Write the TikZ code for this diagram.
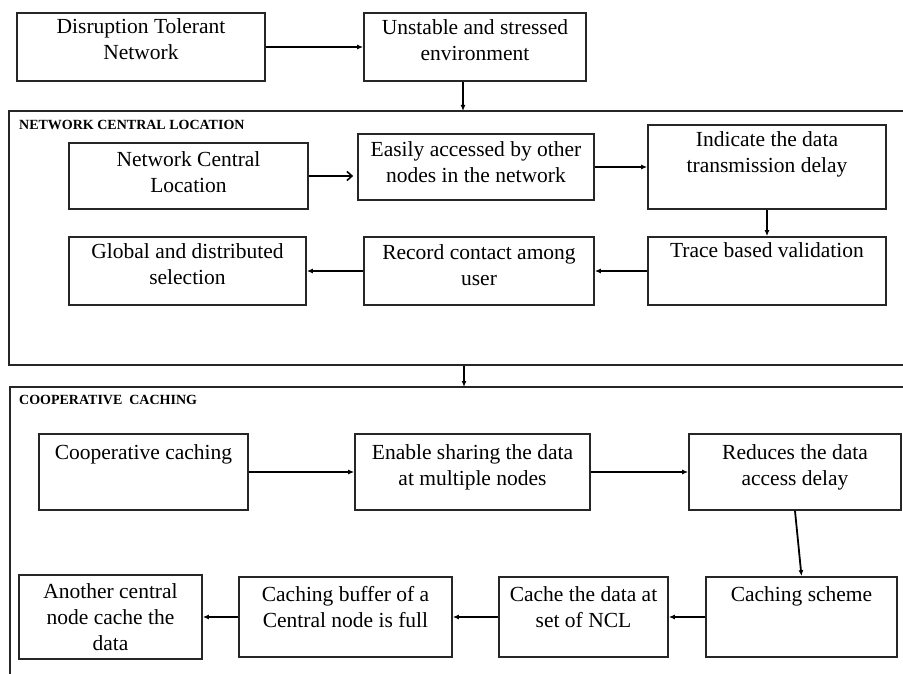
\documentclass[tikz,border=0pt]{standalone}
\usepackage{fontspec}
\setmainfont{Liberation Serif}
\usetikzlibrary{arrows.meta,calc}
\begin{document}
\begin{tikzpicture}[x=1pt,y=-1pt,
  box/.style={draw=black!85, line width=1.7pt, rectangle, inner sep=0pt},
  frame/.style={draw=black!85, line width=1.7pt, rectangle, inner sep=0pt},
  txt/.style={align=center, inner sep=0pt, anchor=base, font=\fontsize{21.5}{26}\selectfont},
  ttl/.style={anchor=base west, inner sep=0pt, font=\bfseries\fontsize{14}{16}\selectfont},
  arr/.style={line width=1.8pt, -{Latex[length=6pt,width=5pt]}},
  oarr/.style={line width=1.6pt, -{Straight Barb[length=5pt,width=9pt]}, shorten >=4pt}]
\useasboundingbox (0,0) rectangle (903,674);
\clip (0,0) rectangle (903,674);

% frames
\node[frame, minimum width=903pt, minimum height=254pt] (nclf) at (460.5,238) {};
\node[frame, minimum width=902pt, minimum height=303pt] (ccf) at (461,538.5) {};
\node[ttl] (nclt) at (19,130) {NETWORK CENTRAL LOCATION};
\node[ttl] (cct) at (19,404) {COOPERATIVE\ \ CACHING};

% top boxes
\node[box, minimum width=248pt, minimum height=68pt] (A) at (141,47) {};
\node[txt] (tA) at (141,60) {Disruption Tolerant\\Network};
\node[box, minimum width=222pt, minimum height=68pt] (B) at (475,47) {};
\node[txt] (tB) at (475,61) {Unstable and stressed\\environment};

% NCL boxes
\node[box, minimum width=239pt, minimum height=66pt] (ncl) at (188.5,176) {};
\node[txt] (tncl) at (188.5,193) {Network Central\\Location};
\node[box, minimum width=236pt, minimum height=66pt] (eas) at (476,167) {};
\node[txt] (teas) at (476,183) {Easily accessed by other\\nodes in the network};
\node[box, minimum width=238pt, minimum height=84pt] (ind) at (767,167) {};
\node[txt] (tind) at (767,173) {Indicate the data\\transmission delay};
\node[box, minimum width=237pt, minimum height=68pt] (glo) at (187.5,271) {};
\node[txt] (tglo) at (187.5,284) {Global and distributed\\selection};
\node[box, minimum width=230pt, minimum height=68pt] (rec) at (479,271) {};
\node[txt] (trec) at (479,285) {Record contact among\\user};
\node[box, minimum width=238pt, minimum height=68pt] (tra) at (767,271) {};
\node[txt] (ttra) at (767,258) {Trace based validation};

% CC boxes
\node[box, minimum width=209pt, minimum height=76pt] (coo) at (143.5,472) {};
\node[txt] (tcoo) at (143.5,459) {Cooperative caching};
\node[box, minimum width=235pt, minimum height=76pt] (ena) at (472.5,472) {};
\node[txt] (tena) at (472.5,485) {Enable sharing the data\\at multiple nodes};
\node[box, minimum width=212pt, minimum height=76pt] (red) at (795,472) {};
\node[txt] (tred) at (795,485) {Reduces the data\\access delay};
\node[box, minimum width=191pt, minimum height=80pt] (cs) at (801.5,617) {};
\node[txt] (tcs) at (801.5,601) {Caching scheme};
\node[box, minimum width=169pt, minimum height=80pt] (cd) at (583.5,617) {};
\node[txt] (tcd) at (583.5,627) {Cache the data at\\set of NCL};
\node[box, minimum width=213pt, minimum height=80pt] (buf) at (345.5,617) {};
\node[txt] (tbuf) at (345.5,627) {Caching buffer of a\\Central node is full};
\node[box, minimum width=183pt, minimum height=84pt] (ano) at (110.5,617) {};
\node[txt] (tano) at (110.5,650) {Another central\\node cache the\\data};

% connector coordinates
\coordinate (nclin) at (463,111);
\coordinate (ccin) at (464,387);

% connectors
\draw[arr] (A) -- (B);
\draw[arr] (B.south -| nclin) -- (nclin);
\draw[oarr] (ncl.east) -- (ncl.east -| eas.west);
\draw[arr] (eas) -- (ind);
\draw[arr] (ind) -- (tra);
\draw[arr] (tra) -- (rec);
\draw[arr] (rec) -- (glo);
\draw[arr] (nclf.south -| ccin) -- (ccin);
\draw[arr] (coo) -- (ena);
\draw[arr] (ena) -- (red);
\draw[arr] (red.south) -- (cs.north);
\draw[arr] (cs) -- (cd);
\draw[arr] (cd) -- (buf);
\draw[arr] (buf) -- (ano);
\end{tikzpicture}
\end{document}
